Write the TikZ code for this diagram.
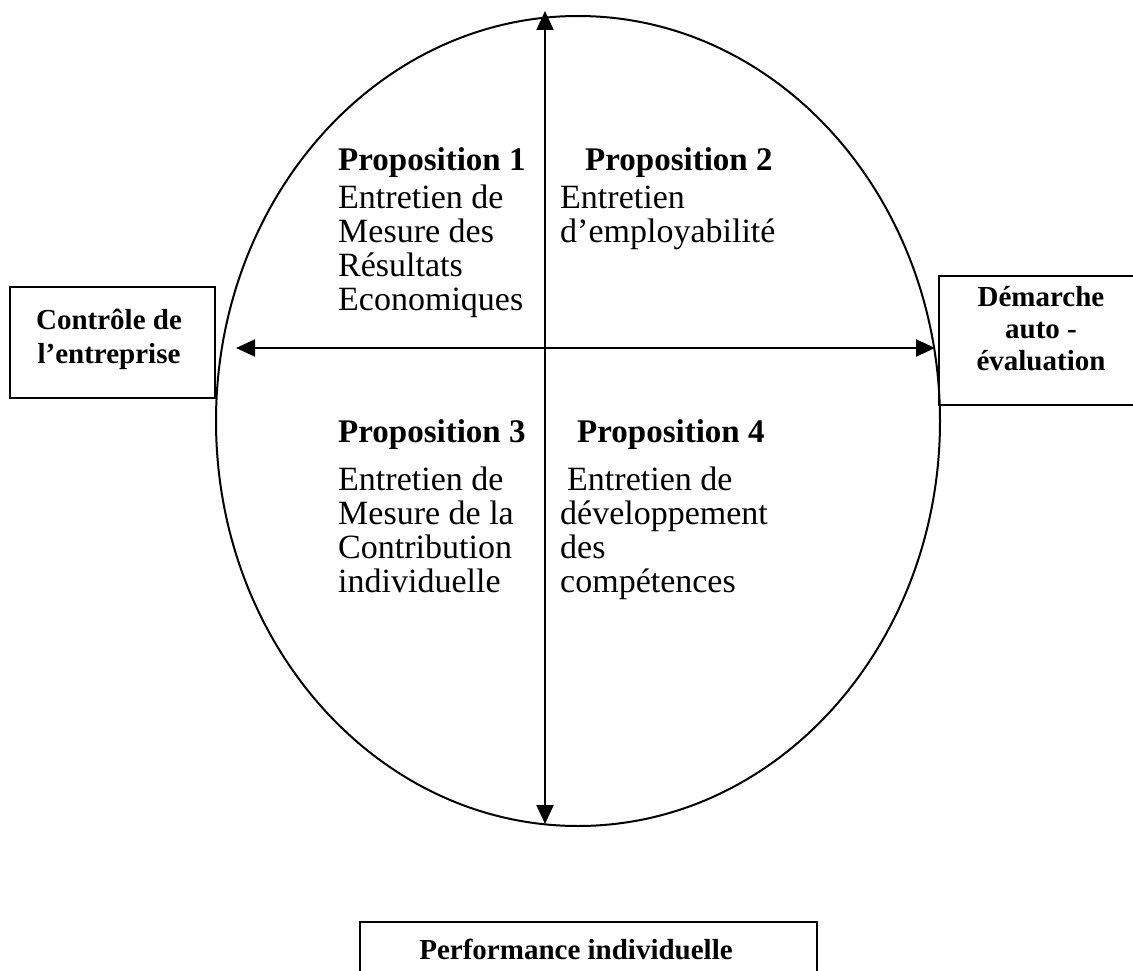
\documentclass[tikz,border=0pt]{standalone}
\usepackage{fontspec}
\setmainfont{Liberation Serif}
\usetikzlibrary{shapes.geometric,arrows.meta}
\tikzset{
  line/.style={line width=2pt},
  dblarrow/.style={line width=2pt,{Triangle[length=19pt,width=17pt]}-{Triangle[length=19pt,width=17pt]}},
  boxline/.style={line width=2pt},
  title/.style={anchor=base west,inner sep=0pt,font=\fontsize{33}{37}\selectfont\bfseries},
  body/.style={anchor=base west,inner sep=0pt,font=\fontsize{34}{37}\selectfont},
  boxtext/.style={anchor=base,inner sep=0pt,font=\fontsize{29}{34}\selectfont\bfseries}
}
\begin{document}
\begin{tikzpicture}[x=1pt,y=-1pt]
\useasboundingbox (0,0) rectangle (1133,971);
% ellipse
\node (ell) [ellipse,draw,line,inner sep=0pt,minimum width=724pt,minimum height=810pt] at (578,421) {};
% axes
\coordinate (vtop) at (545,11);
\coordinate (vbot) at (545,824);
\coordinate (hl) at (236,348);
\coordinate (hr) at (935,348);
\draw[dblarrow] (vbot) -- (vtop);
\draw[dblarrow] (hl) -- (hr);
% left box
\node (ctrl) [draw,boxline,minimum width=205pt,minimum height=111pt,inner sep=0pt] at (112.5,342.5) {};
\node (ctrl1) [boxtext] at (109,329) {Contrôle de};
\node (ctrl2) [boxtext] at (109,363) {l’entreprise};
% right box (cut at the page edge)
\coordinate (rb1) at (1150,276);
\coordinate (rb2) at (939,276);
\coordinate (rb3) at (939,405);
\coordinate (rb4) at (1150,405);
\draw[boxline] (rb1) -- (rb2) -- (rb3) -- (rb4);
\node (dem1) [boxtext] at (1041,306) {Démarche};
\node (dem2) [boxtext] at (1041,338) {auto -};
\node (dem3) [boxtext] at (1041,370) {évaluation};
% bottom box (cut at the page edge)
\coordinate (pb1) at (360,990);
\coordinate (pb2) at (360,922);
\coordinate (pb3) at (817,922);
\coordinate (pb4) at (817,990);
\draw[boxline] (pb1) -- (pb2) -- (pb3) -- (pb4);
\node (perf) [boxtext] at (576,959) {Performance individuelle};
% quadrant 1
\node (p1) [title] at (338,171) {Proposition 1};
\node (p1a) [body] at (338,208) {Entretien de};
\node (p1b) [body] at (338,242) {Mesure des};
\node (p1c) [body] at (338,276) {Résultats};
\node (p1d) [body] at (338,310) {Economiques};
% quadrant 2
\node (p2) [title] at (585,171) {Proposition 2};
\node (p2a) [body] at (560,208) {Entretien};
\node (p2b) [body] at (560,242) {d’employabilité};
% quadrant 3
\node (p3) [title] at (338,442) {Proposition 3};
\node (p3a) [body] at (338,490) {Entretien de};
\node (p3b) [body] at (338,524) {Mesure de la};
\node (p3c) [body] at (338,558) {Contribution};
\node (p3d) [body] at (338,592) {individuelle};
% quadrant 4
\node (p4) [title] at (577,442) {Proposition 4};
\node (p4a) [body] at (567,490) {Entretien de};
\node (p4b) [body] at (560,524) {développement};
\node (p4c) [body] at (560,558) {des};
\node (p4d) [body] at (560,592) {compétences};
\end{tikzpicture}
\end{document}
